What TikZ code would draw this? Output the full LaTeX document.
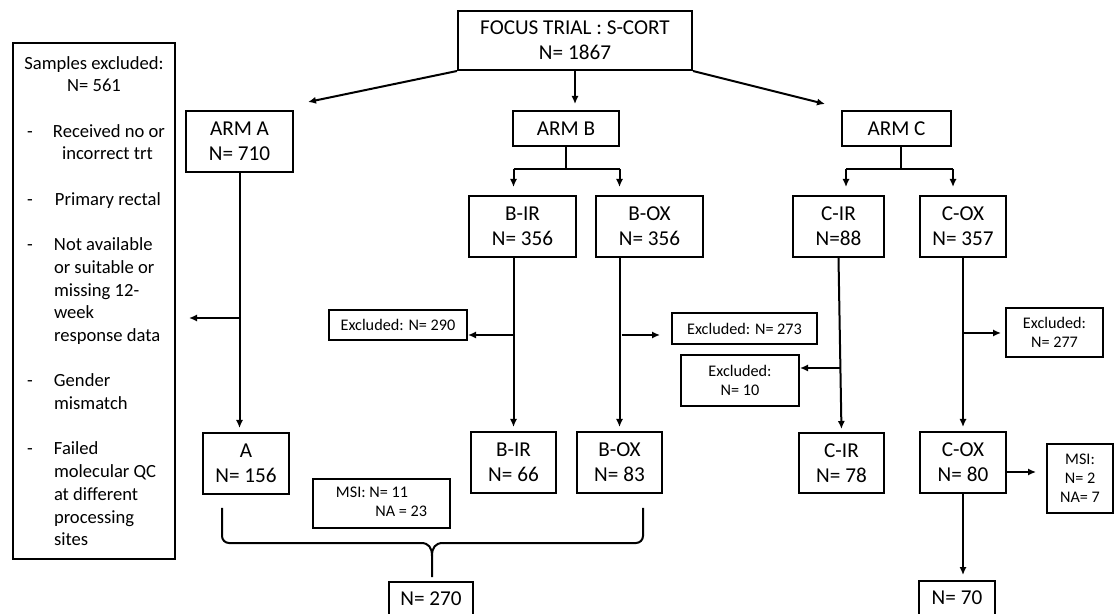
\documentclass[tikz,border=0pt]{standalone}
\usepackage{fontspec}
\setmainfont{Carlito}
\usetikzlibrary{arrows.meta}

\tikzset{
  box/.style={draw,line width=1pt,align=center,inner sep=0pt,font=\fontsize{10.6}{12.5}\selectfont},
  sbox/.style={box,font=\fontsize{8.1}{9.5}\selectfont},
  ln/.style={line width=1pt},
  arr/.style={line width=1pt,-{Latex[length=4pt,width=3.6pt]}}
}

\begin{document}
\begin{tikzpicture}[x=0.5pt,y=-0.5pt]
    \newcommand{\centreline}[1]{\makebox[67pt]{#1}}
    \newcommand{\dashitem}[1]{\makebox[67pt][l]{\makebox[12.5pt][l]{-}#1}}
    \newcommand{\indentitem}[1]{\makebox[67pt][l]{\hspace*{13.5pt}#1}}
    \useasboundingbox (0,0) rectangle (1114,614);
    % top
    \node[box,minimum width=117pt,minimum height=29.5pt] (focus) at (575,40.5) {FOCUS TRIAL : S-CORT\\N= 1867};
    \node[box,minimum width=53.5pt,minimum height=30.5pt] (arma) at (239.5,141.5) {ARM A\\N= 710};
    \node[box,minimum width=53pt,minimum height=17.5pt] (armb) at (566,128.5) {ARM B};
    \node[box,minimum width=54.5pt,minimum height=17.5pt] (armc) at (896.5,128.5) {ARM C};
    % list of exclusions
    \node[box,inner xsep=7pt,inner ysep=0pt,align=left,minimum height=258pt,
          font=\fontsize{9.3}{11.35}\selectfont] (samples) at (94,301) {%
      \centreline{Samples excluded:}\\
      \centreline{N= 561}\\[11.35pt]
      \dashitem{\hspace*{0.5pt}Received no or}\\
      \indentitem{\hspace*{4pt}incorrect trt}\\[11.35pt]
      \dashitem{\hspace*{1.5pt}Primary rectal}\\[11.35pt]
      \dashitem{\hspace*{1pt}Not available}\\
      \indentitem{or suitable or}\\
      \indentitem{missing 12-}\\
      \indentitem{week}\\
      \indentitem{response data}\\[11.35pt]
      \dashitem{\hspace*{1pt}Gender}\\
      \indentitem{mismatch}\\[11.35pt]
      \dashitem{\hspace*{1pt}Failed}\\
      \indentitem{molecular QC}\\
      \indentitem{at different}\\
      \indentitem{processing}\\
      \indentitem{sites}};
    % sub arms
    \node[box,minimum width=53.5pt,minimum height=30.5pt] (bir) at (522.5,226.5) {B-IR\\N= 356};
    \node[box,minimum width=53.5pt,minimum height=30.5pt] (box) at (649.5,226.5) {B-OX\\N= 356};
    \node[box,minimum width=45.5pt,minimum height=30.5pt] (cir) at (838.5,226.5) {C-IR\\N=88};
    \node[box,minimum width=43pt,minimum height=30.5pt] (cox) at (963,226.5) {C-OX\\N= 357};
    % excluded
    \node[sbox,minimum width=69pt,minimum height=15pt] (exclbir) at (398,325) {Excluded: N= 290};
    \node[sbox,minimum width=72.5pt,minimum height=15.5pt] (exclbox) at (744.5,328.5) {Excluded: N= 273};
    \node[sbox,minimum width=59pt,minimum height=25.5pt] (exclcir) at (740,380.5) {Excluded:\\N= 10};
    \node[sbox,minimum width=48.5pt,minimum height=24.5pt] (exclcox) at (1054.5,332.5) {Excluded:\\N= 277};
    % after exclusion
    \node[box,minimum width=43pt,minimum height=30.5pt] (a) at (246,463.5) {A\\N= 156};
    \node[box,minimum width=42.5pt,minimum height=30.5pt] (bir2) at (513.5,462.5) {B-IR\\N= 66};
    \node[box,minimum width=42.5pt,minimum height=30.5pt] (box2) at (619.5,462.5) {B-OX\\N= 83};
    \node[box,minimum width=42.5pt,minimum height=30pt] (cir2) at (841.5,463) {C-IR\\N= 78};
    \node[box,minimum width=43pt,minimum height=30.5pt] (cox2) at (963,462.5) {C-OX\\N= 80};
    \node[sbox,minimum width=33pt,minimum height=34.5pt] (msic) at (1080,478.5) {MSI:\\N= 2\\NA= 7};
    \node[sbox,minimum width=68.5pt,minimum height=24.5pt] (msiab) at (381.5,503.5)
      {\begin{tabular}{@{}r@{ }l@{}}MSI:&N= 11\\&\hspace*{3pt}NA = 23\end{tabular}};
    \node[box,minimum width=42pt,minimum height=17pt] (final) at (431,599) {N= 270};
    \node[box,minimum width=38pt,minimum height=17pt] (finalc) at (957,598) {N= 70};
    % arrows from the trial
    \draw[arr] (focus.south west) -- ([xshift=7pt,yshift=4pt]arma.north east);
    \draw[arr] (focus.south) -- (focus.south |- armb.north) [shorten >=3pt];
    \draw[arr] (focus.south east) -- ([xshift=-8pt,yshift=3pt]armc.north west);
    % splits
    \draw[ln] (armb.south) -- (armb.south |- 0,169);
    \draw[arr,shorten >=4pt] (bir2.north |- 0,169) -- (bir2.north |- bir.north);
    \draw[arr,shorten >=4pt] (box2.north |- 0,169) -- (box2.north |- box.north);
    \draw[ln] (bir2.north |- 0,169) -- (box2.north |- 0,169);
    \draw[ln] ([xshift=2pt]armc.south) -- ([xshift=2pt]armc.south |- 0,169);
    \draw[ln] (846,169) -- (953,169);
    \draw[arr,shorten >=4pt] (846,169) -- (846,0 |- cir.north);
    \draw[arr,shorten >=4pt] (953,169) -- (953,0 |- cox.north);
    % down the arms
    \draw[arr,shorten >=2pt] (arma.south) -- (arma.south |- a.north);
    \draw[arr] (arma.south |- 0,318) -- ([xshift=6.5pt]samples.east |- 0,318);
    \draw[arr,shorten >=2pt] (bir2.north |- bir.south) -- (bir2.north);
    \draw[arr] (bir2.north |- 0,335) -- (exclbir.east |- 0,335);
    \draw[arr,shorten >=2pt] (box2.north |- box.south) -- (box2.north);
    \draw[arr] ([xshift=1pt]box2.north |- 0,335) -- ([xshift=-5.5pt]exclbox.west |- 0,335);
    \draw[arr,shorten >=1.5pt] (cir.south) -- (cir2.north);
    \draw[arr] (840,368) -- (exclcir.east |- 0,368);
    \draw[arr,shorten >=2pt] (cox.south) -- (cox2.north);
    \draw[arr,shorten >=2pt] (cox.south |- 0,333) -- (exclcox.west |- 0,333);
    \draw[arr] (cox2.east |- 0,472) -- ([xshift=-5pt]msic.west |- 0,472);
    \draw[arr,shorten >=2.5pt] (cox2.south) -- (cox2.south |- finalc.north);
    % brace
    \draw[ln,rounded corners=3.5pt] (222,508) -- (222,543) -- (421,543);
    \draw[ln] (421,543) .. controls (429,543) and (432,548) .. (432,556) -- (432,577);
    \draw[ln] (432,556) .. controls (432,548) and (435,543) .. (443,543);
    \draw[ln,rounded corners=3.5pt] (443,543) -- (643,543) -- (643,508);
\end{tikzpicture}
\end{document}
